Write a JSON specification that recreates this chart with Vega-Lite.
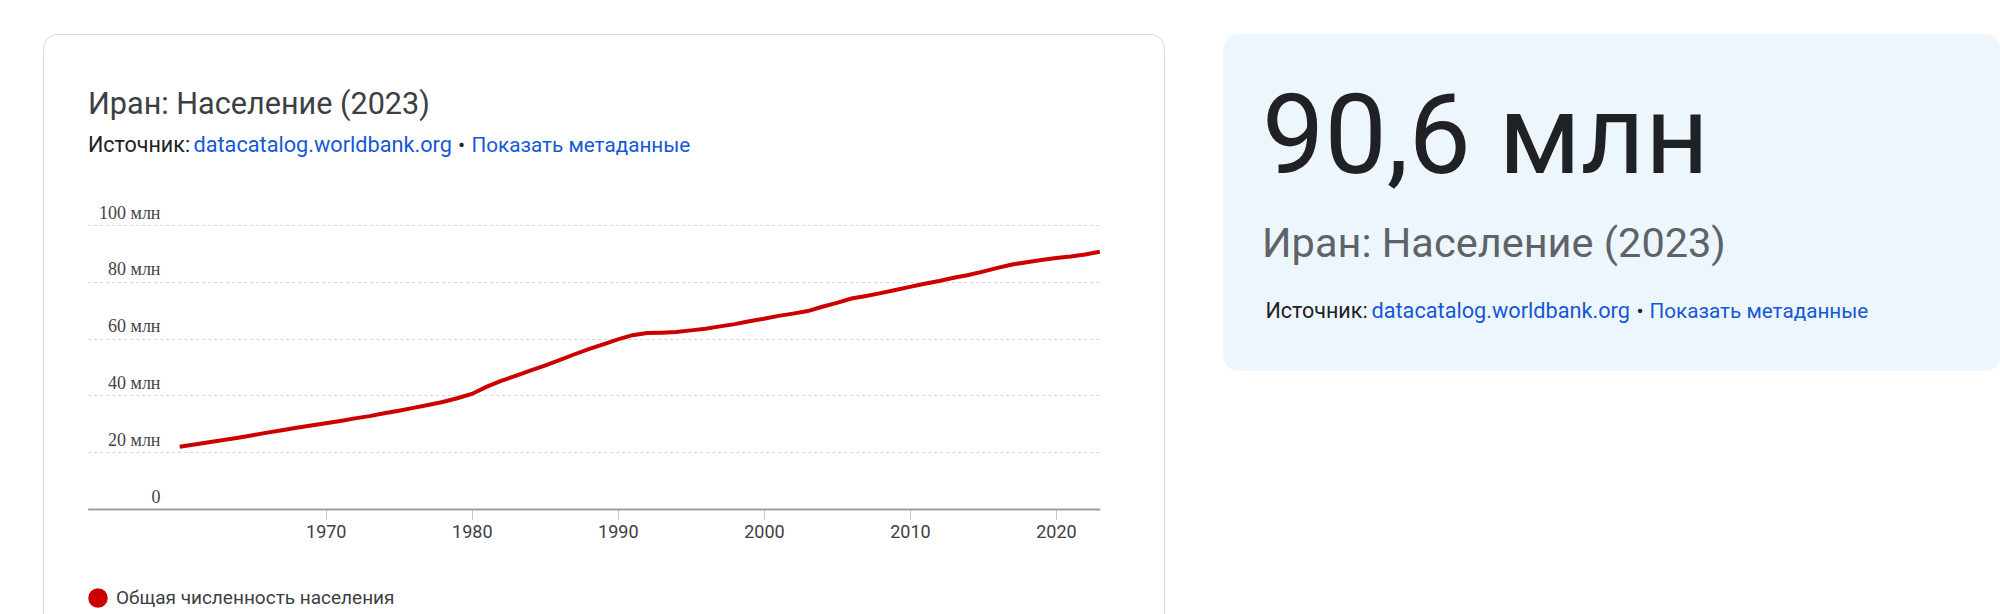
{
  "$schema": "https://vega.github.io/schema/vega-lite/v6.json",
  "background": "white",
  "padding": {"left": 42, "top": 33, "right": 0, "bottom": -20},
  "autosize": {"type": "pad"},
  "spacing": 58,
  "datasets": {
    "iran": [
      {"year": 1960, "population": 21900000},
      {"year": 1961, "population": 22700000},
      {"year": 1962, "population": 23500000},
      {"year": 1963, "population": 24300000},
      {"year": 1964, "population": 25100000},
      {"year": 1965, "population": 26000000},
      {"year": 1966, "population": 26900000},
      {"year": 1967, "population": 27700000},
      {"year": 1968, "population": 28600000},
      {"year": 1969, "population": 29400000},
      {"year": 1970, "population": 30200000},
      {"year": 1971, "population": 31000000},
      {"year": 1972, "population": 31900000},
      {"year": 1973, "population": 32700000},
      {"year": 1974, "population": 33700000},
      {"year": 1975, "population": 34600000},
      {"year": 1976, "population": 35600000},
      {"year": 1977, "population": 36600000},
      {"year": 1978, "population": 37700000},
      {"year": 1979, "population": 39000000},
      {"year": 1980, "population": 40500000},
      {"year": 1981, "population": 43000000},
      {"year": 1982, "population": 45100000},
      {"year": 1983, "population": 46900000},
      {"year": 1984, "population": 48700000},
      {"year": 1985, "population": 50500000},
      {"year": 1986, "population": 52400000},
      {"year": 1987, "population": 54400000},
      {"year": 1988, "population": 56300000},
      {"year": 1989, "population": 58000000},
      {"year": 1990, "population": 59700000},
      {"year": 1991, "population": 61200000},
      {"year": 1992, "population": 62000000},
      {"year": 1993, "population": 62100000},
      {"year": 1994, "population": 62300000},
      {"year": 1995, "population": 62900000},
      {"year": 1996, "population": 63500000},
      {"year": 1997, "population": 64300000},
      {"year": 1998, "population": 65100000},
      {"year": 1999, "population": 66100000},
      {"year": 2000, "population": 67000000},
      {"year": 2001, "population": 68000000},
      {"year": 2002, "population": 68800000},
      {"year": 2003, "population": 69700000},
      {"year": 2004, "population": 71200000},
      {"year": 2005, "population": 72600000},
      {"year": 2006, "population": 74100000},
      {"year": 2007, "population": 75000000},
      {"year": 2008, "population": 76000000},
      {"year": 2009, "population": 77100000},
      {"year": 2010, "population": 78200000},
      {"year": 2011, "population": 79300000},
      {"year": 2012, "population": 80300000},
      {"year": 2013, "population": 81400000},
      {"year": 2014, "population": 82400000},
      {"year": 2015, "population": 83600000},
      {"year": 2016, "population": 84900000},
      {"year": 2017, "population": 86100000},
      {"year": 2018, "population": 86900000},
      {"year": 2019, "population": 87700000},
      {"year": 2020, "population": 88400000},
      {"year": 2021, "population": 88900000},
      {"year": 2022, "population": 89600000},
      {"year": 2023, "population": 90600000}
    ]
  },
  "hconcat": [
    {
      "width": 1121,
      "height": 600,
      "view": {"stroke": "#dadce0", "strokeWidth": 1, "cornerRadius": 14, "fill": "white"},
      "title": {
        "text": "Иран: Население (2023)",
        "subtitle": "Источник:",
        "anchor": "start",
        "frame": "group",
        "orient": "top",
        "offset": -122,
        "dx": 45,
        "font": "Roboto",
        "fontSize": 30.6,
        "fontWeight": "normal",
        "color": "#3c4043",
        "subtitleFont": "Roboto",
        "subtitleFontSize": 21.5,
        "subtitleColor": "#202124",
        "subtitlePadding": 14
      },
      "data": {"name": "iran"},
      "encoding": {
        "y": {
          "field": "population",
          "type": "quantitative",
          "scale": {"domain": [0, 100000000], "range": [475, 191], "nice": false, "zero": true},
          "axis": {
            "values": [0, 20000000, 40000000, 60000000, 80000000, 100000000],
            "labelExpr": "datum.value == 0 ? '0' : format(datum.value / 1000000, 'd') + ' млн'",
            "domain": false,
            "ticks": false,
            "tickSize": 0,
            "labelPadding": -117,
            "labelAlign": "right",
            "labelBaseline": "alphabetic",
            "labelOffset": -7,
            "labelFont": "Liberation Serif",
            "labelFontSize": 18,
            "labelColor": "#444444",
            "labelFlush": false,
            "labelOverlap": false,
            "grid": true,
            "gridDash": [3, 3],
            "gridColor": "#d4d4d4",
            "gridWidth": 1,
            "title": "Показать метаданные",
            "titleAngle": 0,
            "titleX": 428,
            "titleY": 117.5,
            "titleAlign": "left",
            "titleBaseline": "alphabetic",
            "titleFont": "Roboto",
            "titleFontSize": 20.7,
            "titleFontWeight": "normal",
            "titleColor": "#1558d6"
          }
        }
      },
      "layer": [
        {
          "mark": {"type": "line", "strokeWidth": 4, "clip": false},
          "encoding": {
            "x": {
              "field": "year",
              "type": "quantitative",
              "scale": {"domain": [1953.7, 2023], "range": [44.7, 1056.8], "nice": false, "zero": false},
              "axis": {
                "orient": "bottom",
                "offset": -125,
                "values": [1970, 1980, 1990, 2000, 2010, 2020],
                "format": "d",
                "domain": true,
                "domainColor": "#9e9e9e",
                "domainWidth": 2,
                "ticks": true,
                "tickSize": 10,
                "tickColor": "#c6c6c6",
                "tickWidth": 1,
                "labelFont": "Roboto",
                "labelFontSize": 18,
                "labelColor": "#3c4043",
                "labelPadding": 4,
                "labelFlush": false,
                "labelOverlap": false,
                "grid": false,
                "title": "•",
                "titleX": 418,
                "titleY": -357.5,
                "titleAlign": "center",
                "titleBaseline": "alphabetic",
                "titleAngle": 0,
                "titleFont": "Roboto",
                "titleFontSize": 21,
                "titleFontWeight": "normal",
                "titleColor": "#202124"
              }
            },
            "color": {
              "datum": "Общая численность населения",
              "scale": {"range": ["#cc0000"]},
              "legend": {
                "orient": "none",
                "legendX": 45,
                "legendY": 554,
                "title": null,
                "symbolType": "circle",
                "symbolSize": 380,
                "symbolFillColor": "#cc0000",
                "symbolStrokeColor": "#cc0000",
                "symbolStrokeWidth": 0,
                "symbolOpacity": 1,
                "labelFont": "Roboto",
                "labelFontSize": 19,
                "labelColor": "#3c4043",
                "labelOffset": 8,
                "labelLimit": 600,
                "padding": 0,
                "encode": {
                  "symbols": {"update": {"fill": {"value": "#cc0000"}, "stroke": {"value": "#cc0000"}, "strokeWidth": {"value": 0}, "opacity": {"value": 1}}}
                }
              }
            }
          }
        },
        {
          "mark": {"type": "line", "opacity": 0},
          "encoding": {
            "x": {
              "field": "year",
              "type": "quantitative",
              "scale": {"domain": [1953.7, 2023], "range": [44.7, 1056.8], "nice": false, "zero": false},
              "axis": {
                "orient": "top",
                "labels": false,
                "ticks": false,
                "domain": false,
                "grid": false,
                "title": "datacatalog.worldbank.org",
                "titleX": 150,
                "titleY": 117.5,
                "titleAlign": "left",
                "titleBaseline": "alphabetic",
                "titleAngle": 0,
                "titleFont": "Roboto",
                "titleFontSize": 21.7,
                "titleFontWeight": "normal",
                "titleColor": "#1558d6"
              }
            }
          }
        }
      ],
      "resolve": {"axis": {"x": "independent"}}
    },
    {
      "width": 778,
      "height": 337,
      "view": {"fill": "#eef6fd", "stroke": null, "cornerRadius": 16},
      "title": {
        "text": "90,6 млн",
        "subtitle": "Иран: Население (2023)",
        "anchor": "start",
        "frame": "group",
        "orient": "top",
        "offset": -232,
        "dx": 39,
        "font": "Roboto",
        "fontSize": 111,
        "fontWeight": "normal",
        "color": "#202124",
        "subtitleFont": "Roboto",
        "subtitleFontSize": 41.5,
        "subtitleColor": "#5f6368",
        "subtitlePadding": 28
      },
      "data": {"name": "iran"},
      "layer": [
        {
          "mark": {"type": "line", "opacity": 0},
          "encoding": {
            "x": {
              "field": "year",
              "type": "quantitative",
              "axis": {
                "orient": "bottom",
                "labels": false, "ticks": false, "domain": false, "grid": false,
                "title": "Источник:",
                "titleX": 42, "titleY": -53.4,
                "titleAlign": "left", "titleBaseline": "alphabetic", "titleAngle": 0,
                "titleFont": "Roboto", "titleFontSize": 21.5, "titleFontWeight": "normal", "titleColor": "#202124"
              }
            },
            "y": {
              "field": "population",
              "type": "quantitative",
              "axis": {
                "orient": "left",
                "labels": false, "ticks": false, "domain": false, "grid": false,
                "title": "•",
                "titleX": 416.6, "titleY": 283.6,
                "titleAlign": "center", "titleBaseline": "alphabetic", "titleAngle": 0,
                "titleFont": "Roboto", "titleFontSize": 21, "titleFontWeight": "normal", "titleColor": "#202124"
              }
            }
          }
        },
        {
          "mark": {"type": "line", "opacity": 0},
          "encoding": {
            "x": {
              "field": "year",
              "type": "quantitative",
              "axis": {
                "orient": "top",
                "labels": false, "ticks": false, "domain": false, "grid": false,
                "title": "datacatalog.worldbank.org",
                "titleX": 148, "titleY": 283.6,
                "titleAlign": "left", "titleBaseline": "alphabetic", "titleAngle": 0,
                "titleFont": "Roboto", "titleFontSize": 21.7, "titleFontWeight": "normal", "titleColor": "#1558d6"
              }
            },
            "y": {
              "field": "population",
              "type": "quantitative",
              "axis": {
                "orient": "right",
                "labels": false, "ticks": false, "domain": false, "grid": false,
                "title": "Показать метаданные",
                "titleX": -352, "titleY": 283.6,
                "titleAlign": "left", "titleBaseline": "alphabetic", "titleAngle": 0,
                "titleFont": "Roboto", "titleFontSize": 20.7, "titleFontWeight": "normal", "titleColor": "#1558d6"
              }
            }
          }
        }
      ],
      "resolve": {"axis": {"x": "independent", "y": "independent"}}
    }
  ],
  "config": {
    "font": "Roboto",
    "axis": {"labelFont": "Roboto", "titleFont": "Roboto"}
  }
}
